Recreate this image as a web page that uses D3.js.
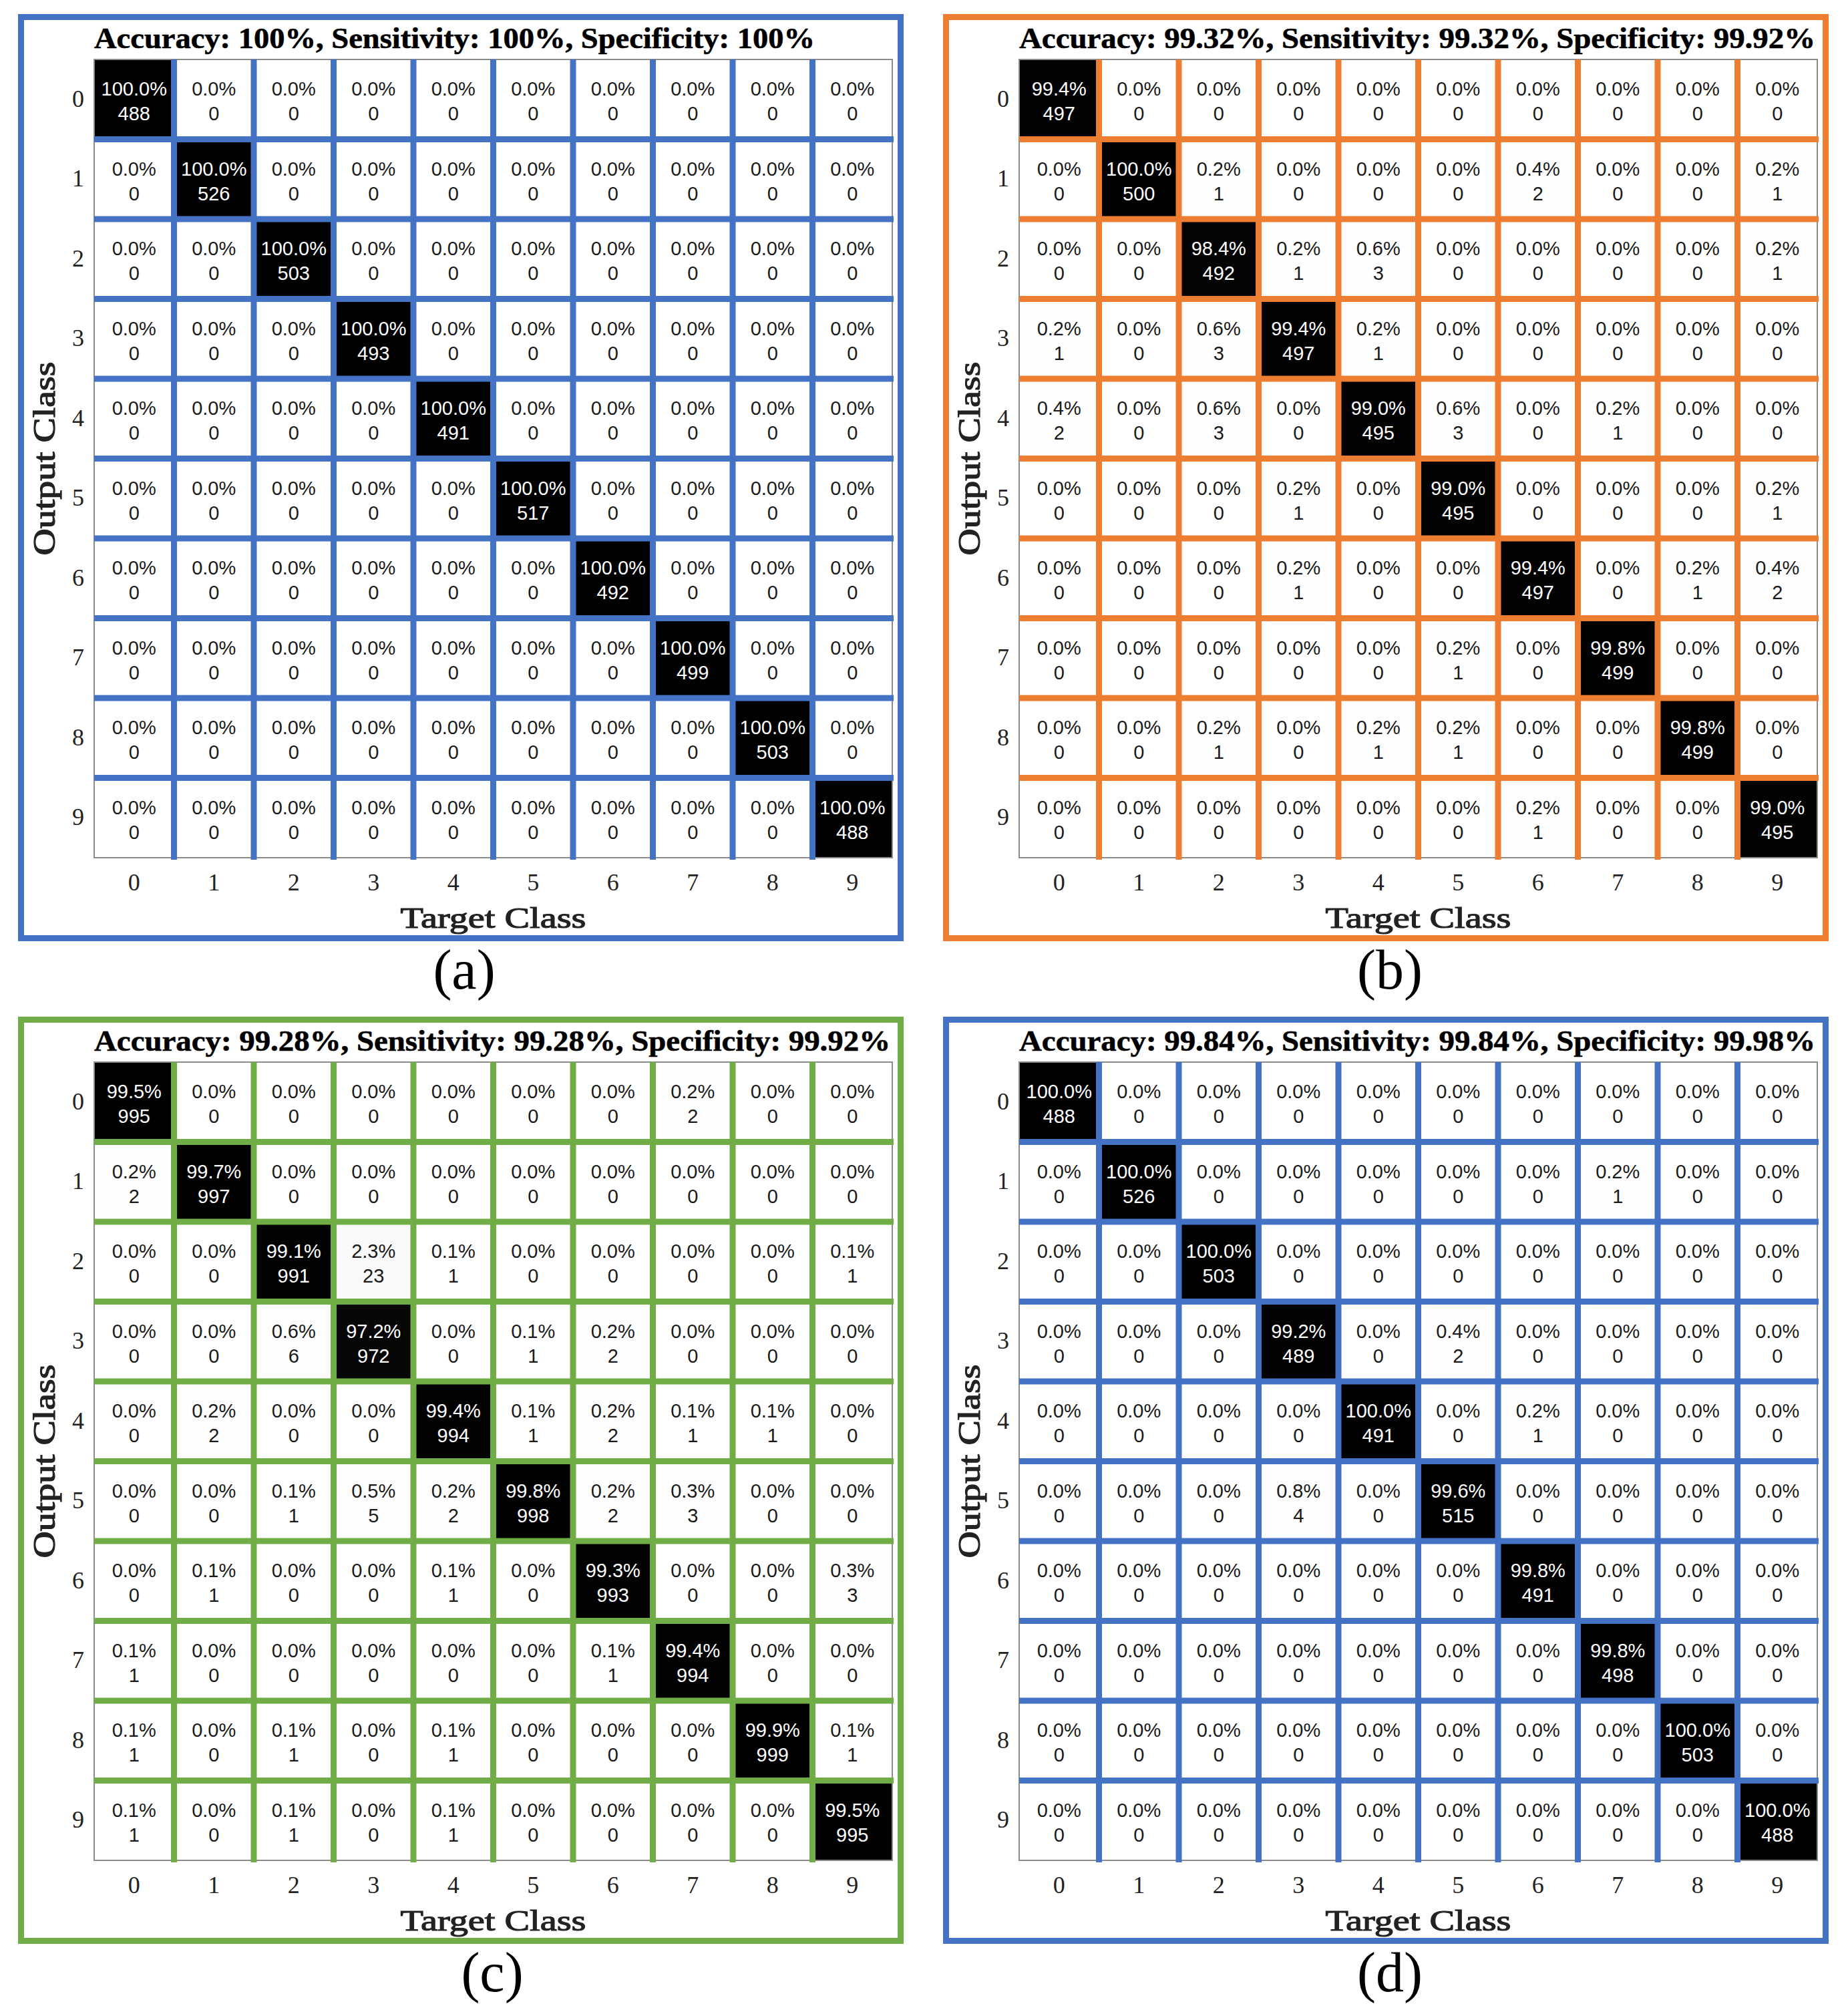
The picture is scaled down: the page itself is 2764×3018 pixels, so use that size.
<!DOCTYPE html>
<html>
<head>
<meta charset="utf-8">
<script src="https://cdn.jsdelivr.net/npm/d3@7"></script>
<style>
  body { margin: 0; background: #fff; }
  svg { display: block; }
</style>
</head>
<body>
<svg id="fig"></svg>
<script>
// class labels (same for target and output)
const classLabels = ["0", "1", "2", "3", "4", "5", "6", "7", "8", "9"];

// counts, rows = output class, columns = target class
const countsA = [
    [488, 0, 0, 0, 0, 0, 0, 0, 0, 0],
    [0, 526, 0, 0, 0, 0, 0, 0, 0, 0],
    [0, 0, 503, 0, 0, 0, 0, 0, 0, 0],
    [0, 0, 0, 493, 0, 0, 0, 0, 0, 0],
    [0, 0, 0, 0, 491, 0, 0, 0, 0, 0],
    [0, 0, 0, 0, 0, 517, 0, 0, 0, 0],
    [0, 0, 0, 0, 0, 0, 492, 0, 0, 0],
    [0, 0, 0, 0, 0, 0, 0, 499, 0, 0],
    [0, 0, 0, 0, 0, 0, 0, 0, 503, 0],
    [0, 0, 0, 0, 0, 0, 0, 0, 0, 488]
];

const countsB = [
    [497, 0, 0, 0, 0, 0, 0, 0, 0, 0],
    [0, 500, 1, 0, 0, 0, 2, 0, 0, 1],
    [0, 0, 492, 1, 3, 0, 0, 0, 0, 1],
    [1, 0, 3, 497, 1, 0, 0, 0, 0, 0],
    [2, 0, 3, 0, 495, 3, 0, 1, 0, 0],
    [0, 0, 0, 1, 0, 495, 0, 0, 0, 1],
    [0, 0, 0, 1, 0, 0, 497, 0, 1, 2],
    [0, 0, 0, 0, 0, 1, 0, 499, 0, 0],
    [0, 0, 1, 0, 1, 1, 0, 0, 499, 0],
    [0, 0, 0, 0, 0, 0, 1, 0, 0, 495]
];

const countsC = [
    [995, 0, 0, 0, 0, 0, 0, 2, 0, 0],
    [2, 997, 0, 0, 0, 0, 0, 0, 0, 0],
    [0, 0, 991, 23, 1, 0, 0, 0, 0, 1],
    [0, 0, 6, 972, 0, 1, 2, 0, 0, 0],
    [0, 2, 0, 0, 994, 1, 2, 1, 1, 0],
    [0, 0, 1, 5, 2, 998, 2, 3, 0, 0],
    [0, 1, 0, 0, 1, 0, 993, 0, 0, 3],
    [1, 0, 0, 0, 0, 0, 1, 994, 0, 0],
    [1, 0, 1, 0, 1, 0, 0, 0, 999, 1],
    [1, 0, 1, 0, 1, 0, 0, 0, 0, 995]
];

const countsD = [
    [488, 0, 0, 0, 0, 0, 0, 0, 0, 0],
    [0, 526, 0, 0, 0, 0, 0, 1, 0, 0],
    [0, 0, 503, 0, 0, 0, 0, 0, 0, 0],
    [0, 0, 0, 489, 0, 2, 0, 0, 0, 0],
    [0, 0, 0, 0, 491, 0, 1, 0, 0, 0],
    [0, 0, 0, 4, 0, 515, 0, 0, 0, 0],
    [0, 0, 0, 0, 0, 0, 491, 0, 0, 0],
    [0, 0, 0, 0, 0, 0, 0, 498, 0, 0],
    [0, 0, 0, 0, 0, 0, 0, 0, 503, 0],
    [0, 0, 0, 0, 0, 0, 0, 0, 0, 488]
];

const panelTitles = [
    "Accuracy: 100%, Sensitivity: 100%, Specificity: 100%",
    "Accuracy: 99.32%, Sensitivity: 99.32%, Specificity: 99.92%",
    "Accuracy: 99.28%, Sensitivity: 99.28%, Specificity: 99.92%",
    "Accuracy: 99.84%, Sensitivity: 99.84%, Specificity: 99.98%"
];
const panelCaptions = ["(a)", "(b)", "(c)", "(d)"];

// layout / style (kept apart from the data)
const panelColors = ["#4472C4", "#ED7D31", "#70AD47", "#4472C4"];
const panelOrigins = [[27, 21], [1412, 21], [27, 1522], [1412, 1522]];
const captionX = [668, 669, 710, 669];
const titleWidths = [1079, 1192, 1192, 1192];

const W = 2764, H = 3018;
const panelW = 1326, panelH = 1388, borderW = 9;
const mx = 114, my = 68, msize = 1195;

const svg = d3.select("#fig").attr("width", W).attr("height", H);
svg.append("rect").attr("width", W).attr("height", H).attr("fill", "#fff");

const x = d3.scaleBand().domain(classLabels).range([0, msize]);
const y = d3.scaleBand().domain(classLabels).range([0, msize]);
const shade = d3.scaleLinear().domain([0, 100]).range(["#ffffff", "#000000"]);
const fmt = d3.format(".1f");

const allCounts = [countsA, countsB, countsC, countsD];

allCounts.forEach(function (counts, p) {
    let color = panelColors[p];
    let g = svg.append("g")
        .attr("transform", "translate(" + panelOrigins[p][0] + "," + panelOrigins[p][1] + ")");

    // column totals -> percentages per target class
    let colTotals = classLabels.map((c, j) => d3.sum(counts, row => row[j]));
    let cells = [];
    counts.forEach(function (row, i) {
        row.forEach(function (v, j) {
            cells.push({r: classLabels[i], c: classLabels[j], n: v, pct: colTotals[j] ? 100 * v / colTotals[j] : 0});
        });
    });

    // outer coloured frame
    g.append("rect")
        .attr("x", borderW / 2).attr("y", borderW / 2)
        .attr("width", panelW - borderW).attr("height", panelH - borderW)
        .attr("fill", "none")
        .attr("stroke", color)
        .attr("stroke-width", borderW);

    // title
    g.append("text")
        .attr("x", mx).attr("y", 51)
        .attr("font-family", "'Liberation Serif', serif")
        .attr("font-weight", "bold")
        .attr("font-size", "45px")
        .attr("textLength", titleWidths[p])
        .attr("lengthAdjust", "spacingAndGlyphs")
        .attr("fill", "#000")
        .attr("stroke", "#000")
        .attr("stroke-width", 0.6)
        .text(panelTitles[p]);

    let m = g.append("g").attr("transform", "translate(" + mx + "," + my + ")");

    // cells
    const cell = m.selectAll("g.cell")
        .data(cells)
        .join("g")
        .attr("class", "cell")
        .attr("transform", d => "translate(" + x(d.c) + "," + y(d.r) + ")");

    cell.append("rect")
        .attr("width", x.bandwidth())
        .attr("height", y.bandwidth())
        .attr("fill", d => shade(d.pct));

    cell.append("text")
        .attr("x", x.bandwidth() / 2).attr("y", 54)
        .attr("text-anchor", "middle")
        .attr("font-family", "'Liberation Sans', Arial, sans-serif")
        .attr("font-size", "29px")
        .attr("fill", d => d.pct > 50 ? "#fff" : "#1a1a1a")
        .text(d => fmt(d.pct) + "%");

    cell.append("text")
        .attr("x", x.bandwidth() / 2).attr("y", 91)
        .attr("text-anchor", "middle")
        .attr("font-family", "'Liberation Sans', Arial, sans-serif")
        .attr("font-size", "29px")
        .attr("fill", d => d.pct > 50 ? "#fff" : "#1a1a1a")
        .text(d => d.n);

    // thin grey outline of the matrix
    m.append("rect")
        .attr("width", msize).attr("height", msize)
        .attr("fill", "none")
        .attr("stroke", "#8c8c8c")
        .attr("stroke-width", 2);

    // coloured inner grid lines
    let inner = classLabels.slice(1);
    m.selectAll("line.v")
        .data(inner)
        .join("line")
        .attr("class", "v")
        .attr("x1", d => x(d)).attr("x2", d => x(d))
        .attr("y1", 0).attr("y2", msize + 3)
        .attr("stroke", color)
        .attr("stroke-width", 9);
    m.selectAll("line.h")
        .data(inner)
        .join("line")
        .attr("class", "h")
        .attr("y1", d => y(d)).attr("y2", d => y(d))
        .attr("x1", 0).attr("x2", msize + 2)
        .attr("stroke", color)
        .attr("stroke-width", 9);

    // tick labels
    m.selectAll("text.rowlab")
        .data(classLabels)
        .join("text")
        .attr("class", "rowlab")
        .attr("x", -24)
        .attr("y", d => y(d) + y.bandwidth() / 2 + 11)
        .attr("text-anchor", "middle")
        .attr("font-family", "'Liberation Serif', serif")
        .attr("font-size", "36px")
        .attr("fill", "#222")
        .text(d => d);

    m.selectAll("text.collab")
        .data(classLabels)
        .join("text")
        .attr("class", "collab")
        .attr("x", d => x(d) + x.bandwidth() / 2)
        .attr("y", msize + 49)
        .attr("text-anchor", "middle")
        .attr("font-family", "'Liberation Serif', serif")
        .attr("font-size", "36px")
        .attr("fill", "#222")
        .text(d => d);

    // axis titles (regular face with a light stroke for a semi-bold look)
    m.append("text")
        .attr("x", msize / 2).attr("y", msize + 105)
        .attr("text-anchor", "middle")
        .attr("font-family", "'Liberation Serif', serif")
        .attr("font-size", "45px")
        .attr("textLength", 278)
        .attr("lengthAdjust", "spacingAndGlyphs")
        .attr("fill", "#222")
        .attr("stroke", "#222")
        .attr("stroke-width", 1.2)
        .text("Target Class");

    m.append("text")
        .attr("transform", "translate(" + (-59) + "," + (msize / 2) + ") rotate(-90)")
        .attr("text-anchor", "middle")
        .attr("font-family", "'Liberation Serif', serif")
        .attr("font-size", "46px")
        .attr("textLength", 290)
        .attr("lengthAdjust", "spacingAndGlyphs")
        .attr("fill", "#222")
        .attr("stroke", "#222")
        .attr("stroke-width", 1.2)
        .text("Output Class");

    // caption under the panel
    g.append("text")
        .attr("x", captionX[p]).attr("y", 1459)
        .attr("text-anchor", "middle")
        .attr("font-family", "'Liberation Serif', serif")
        .attr("font-size", "84px")
        .attr("fill", "#000")
        .text(panelCaptions[p]);
});
</script>
</body>
</html>
